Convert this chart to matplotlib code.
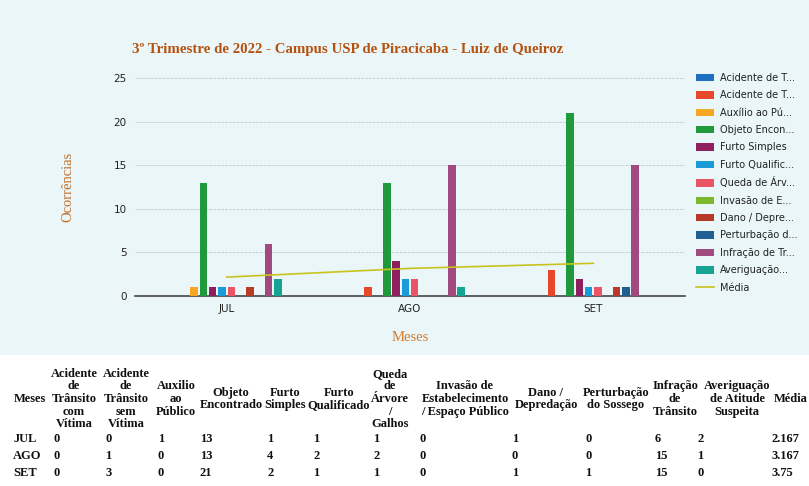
import matplotlib
matplotlib.use("Agg")
import matplotlib.pyplot as plt
import numpy as np
from matplotlib.patches import Rectangle

W, H = 809, 486

months = ["JUL", "AGO", "SET"]
series_labels = ["Acidente de T...", "Acidente de T...", "Auxílio ao Pú...", "Objeto Encon...",
                 "Furto Simples", "Furto Qualific...", "Queda de Árv...", "Invasão de E...",
                 "Dano / Depre...", "Perturbação d...", "Infração de Tr...", "Averiguação..."]
acid_com = [0, 0, 0]
acid_sem = [0, 1, 3]
auxilio = [1, 0, 0]
objeto = [13, 13, 21]
furto_s = [1, 4, 2]
furto_q = [1, 2, 1]
queda = [1, 2, 1]
invasao = [0, 0, 0]
dano = [1, 0, 1]
perturb = [0, 0, 1]
infracao = [6, 15, 15]
averig = [2, 1, 0]
media = [2.167, 3.167, 3.75]
media_txt = ["2.167", "3.167", "3.75"]

series = [acid_com, acid_sem, auxilio, objeto, furto_s, furto_q, queda, invasao,
          dano, perturb, infracao, averig]
colors = ["#1f6fc0", "#e8472a", "#f5a623", "#1e9a3a", "#8e2060", "#1a9ad6",
          "#e85565", "#7cb82f", "#b83a26", "#1f5f94", "#a04a80", "#17a391"]
media_color = "#c8c41c"

table_headers = ["Meses", "Acidente\nde\nTrânsito\ncom\nVítima", "Acidente\nde\nTrânsito\nsem\nVítima",
                 "Auxilio\nao\nPúblico", "Objeto\nEncontrado", "Furto\nSimples", "Furto\nQualificado",
                 "Queda\nde\nÁrvore\n/\nGalhos", "Invasão de\nEstabelecimento\n/ Espaço Público",
                 "Dano /\nDepredação", "Perturbação\ndo Sossego", "Infração\nde\nTrânsito",
                 "Averiguação\nde Atitude\nSuspeita", "Média"]

fig = plt.figure(figsize=(W / 100, H / 100), dpi=100)
fig.patch.set_facecolor("white")
bg = Rectangle((0, 1 - 355 / H), 1, 355 / H, transform=fig.transFigure,
               facecolor="#eaf6f8", edgecolor="none", zorder=-10)
fig.patches.append(bg)

def fx(x): return x / W
def fy(y): return 1 - y / H

ax = fig.add_axes([fx(135), fy(296), fx(685) - fx(135), fy(78) - fy(296)])
ax.set_facecolor("none")
x = np.arange(len(months))
step = 0.0507
bw = 0.041
handles = []
for i, (vals, c, lab) in enumerate(zip(series, colors, series_labels)):
    b = ax.bar(x + (i - 5.5) * step, vals, width=bw, color=c, label=lab, zorder=3)
    handles.append(b)
ln, = ax.plot(x, media, color=media_color, lw=1.2, label="Média", zorder=4)
handles.append(ln)

ax.set_xlim(-0.5, 2.5)
ax.set_ylim(0, 25)
ax.set_yticks([0, 5, 10, 15, 20, 25])
ax.set_xticks(x)
ax.set_xticklabels(months)
ax.tick_params(axis="both", length=0, labelsize=7.5, colors="#222222", pad=6)
ax.grid(axis="y", color="#c8d2d4", lw=0.7, ls=(0, (3, 1)), zorder=0)
for s in ["top", "right", "left"]:
    ax.spines[s].set_visible(False)
ax.spines["bottom"].set_color("#444444")
ax.spines["bottom"].set_linewidth(1.2)

ax.set_ylabel("Ocorrências", color="#c0702a", fontsize=10.5, family="Liberation Serif", labelpad=28)
ax.set_xlabel("Meses", color="#d07a2a", fontsize=10.5, family="Liberation Serif", labelpad=12)

fig.text(fx(348), fy(50), "3º Trimestre de 2022 - Campus USP de Piracicaba - Luiz de Queiroz",
         ha="center", va="center", fontsize=10.7, fontweight="bold", color="#b5520f",
         family="Liberation Serif")

leg = ax.legend(handles=handles, labels=series_labels + ["Média"],
                loc="upper left", bbox_to_anchor=(fx(692), fy(69)), bbox_transform=fig.transFigure,
                frameon=False, fontsize=7, handlelength=1.9, handleheight=0.8,
                labelspacing=0.76, handletextpad=0.6, borderaxespad=0)
for t in leg.get_texts():
    t.set_color("#222222")

# table
hdr_cx = [30, 74, 126, 176, 231, 285, 339, 390, 465, 546, 616, 675, 737, 791]
val_x = [13, 53, 105, 158, 200, 267, 313, 373, 420, 512, 585, 655, 697, 772]
tfont = dict(fontsize=9, fontweight="bold", family="Liberation Serif", color="#111111")
for cx, h in zip(hdr_cx, table_headers):
    fig.text(fx(cx), fy(399), h, ha="center", va="center", linespacing=1.06, **tfont)
row_y = [439, 456, 473]
for r, m in enumerate(months):
    row = [m] + [str(s[r]) for s in series] + [media_txt[r]]
    for vx, v in zip(val_x, row):
        fig.text(fx(vx), fy(row_y[r]), v, ha="left", va="center", **tfont)

fig.savefig("out.png", dpi=100)
